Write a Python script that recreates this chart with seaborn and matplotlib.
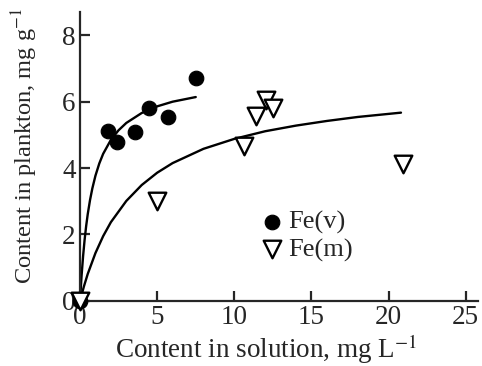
import numpy as np
import pandas as pd
import matplotlib
matplotlib.use("Agg")
import matplotlib.pyplot as plt
import seaborn as sns

fe_v_x = [0.0, 1.84, 2.38, 3.55, 4.48, 5.67, 7.53]
fe_v_y = [0.0, 5.13, 4.78, 5.10, 5.82, 5.55, 6.70]

fe_m_x = [0.0, 5.0, 10.6, 11.4, 12.06, 12.53, 20.9]
fe_m_y = [0.0, 3.01, 4.68, 5.56, 6.05, 5.82, 4.11]

# Fitted curves
fit_v_x = [0, 0.1, 0.2, 0.3, 0.4, 0.5, 0.65, 0.8, 1.0, 1.25, 1.5, 2.0, 2.5, 3.0, 4.0, 5.0, 6.0, 7.5]
fit_v_y = [0, 0.75, 1.35, 1.85, 2.26, 2.61, 3.04, 3.39, 3.77, 4.14, 4.43, 4.85, 5.14, 5.36, 5.66, 5.86, 6.00, 6.14]

fit_m_x = [0, 0.25, 0.5, 1.0, 1.5, 2.0, 3.0, 4.0, 5.0, 6.0, 8.0, 10, 12, 14, 16, 18, 20.8]
fit_m_y = [0, 0.43, 0.81, 1.44, 1.95, 2.37, 3.01, 3.49, 3.86, 4.15, 4.58, 4.88, 5.11, 5.28, 5.42, 5.54, 5.67]

x_ticks = [0, 5, 10, 15, 20, 25]
y_ticks = [0, 2, 4, 6, 8]

sns.set_style("ticks")
plt.rcParams['font.family'] = ['Liberation Serif', 'DejaVu Serif']
plt.rcParams['mathtext.fontset'] = 'stix'

fig = plt.figure(figsize=(4.82, 3.66), dpi=100)
ax = fig.add_axes([0.166, 0.178, 0.826, 0.789])

sns.lineplot(x=fit_v_x, y=fit_v_y, color='black', lw=1.7, ax=ax, sort=False)
sns.lineplot(x=fit_m_x, y=fit_m_y, color='black', lw=1.7, ax=ax, sort=False)

sns.scatterplot(x=fe_v_x, y=fe_v_y, marker='o', s=110, color='black',
                edgecolor='black', ax=ax, label='Fe(v)', clip_on=False, zorder=3)
sns.scatterplot(x=fe_m_x, y=fe_m_y, marker='v', s=160, facecolor='white',
                edgecolor='black', linewidth=1.7, ax=ax, label='Fe(m)',
                clip_on=False, zorder=4)

ax.set_xlim(0, 25.8)
ax.set_ylim(0, 8.7)
ax.set_xticks(x_ticks)
ax.set_yticks(y_ticks)

for side in ['top', 'right']:
    ax.spines[side].set_visible(False)
for side in ['left', 'bottom']:
    ax.spines[side].set_linewidth(1.6)
ax.tick_params(direction='in', length=7, width=1.6, labelsize=19.5, pad=3)

ax.set_xlabel('Content in solution, mg L$^{-1}$', fontsize=19.5)
ax.set_ylabel('Content in plankton, mg g$^{-1}$', fontsize=17.6)
ax.xaxis.set_label_coords(0.468, -0.108)
ax.yaxis.set_label_coords(-0.10, 0.535)

ax.legend(loc='upper left', bbox_to_anchor=(0.41, 0.36), frameon=False,
          fontsize=19, handletextpad=0.0, labelspacing=0.15, borderpad=0,
          handlelength=1.2)

fig.savefig('out.png', dpi=100)
